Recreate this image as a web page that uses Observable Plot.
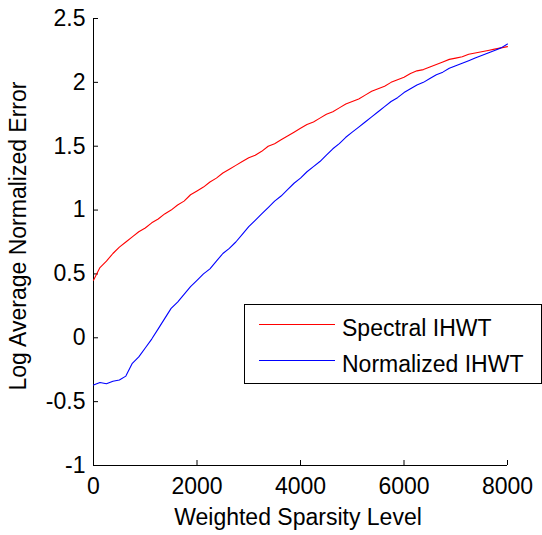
<!DOCTYPE html>
<html><head><meta charset="utf-8">
<script src="https://cdn.jsdelivr.net/npm/d3@7"></script>
<script src="https://cdn.jsdelivr.net/npm/@observablehq/plot@0.6"></script>
<style>body{margin:0;background:#fff}#chart{width:542px;height:535px}</style>
</head><body><div id="chart"></div>
<script>
const sparsity = [0,125,250,375,500,625,750,875,1000,1125,1250,1375,1500,1625,1750,1875,2000,2125,2250,2375,2500,2625,2750,2875,3000,3125,3250,3375,3500,3625,3750,3875,4000,4125,4250,4375,4500,4625,4750,4875,5000,5125,5250,5375,5500,5625,5750,5875,6000,6125,6250,6375,6500,6625,6750,6875,7000,7125,7250,7375,7500,7625,7750,7875,8000];
const spectral = [0.45,0.55,0.60,0.66,0.71,0.75,0.79,0.83,0.86,0.90,0.93,0.97,1.00,1.04,1.07,1.12,1.15,1.18,1.22,1.25,1.29,1.32,1.35,1.38,1.41,1.43,1.46,1.50,1.52,1.55,1.58,1.61,1.64,1.67,1.69,1.72,1.75,1.77,1.80,1.83,1.85,1.87,1.90,1.93,1.95,1.97,2.00,2.02,2.04,2.07,2.09,2.10,2.12,2.14,2.16,2.18,2.19,2.20,2.22,2.23,2.24,2.25,2.26,2.27,2.28];
const normalized = [-0.37,-0.35,-0.36,-0.34,-0.33,-0.30,-0.20,-0.15,-0.08,-0.01,0.07,0.15,0.23,0.28,0.34,0.40,0.45,0.50,0.54,0.60,0.66,0.70,0.75,0.81,0.87,0.92,0.97,1.02,1.07,1.11,1.16,1.21,1.25,1.30,1.34,1.38,1.43,1.48,1.52,1.57,1.61,1.65,1.69,1.73,1.77,1.81,1.85,1.88,1.92,1.95,1.98,2.00,2.03,2.06,2.08,2.11,2.13,2.15,2.17,2.19,2.21,2.23,2.25,2.27,2.30];
const seriesNames = ["Spectral IHWT", "Normalized IHWT"];
const seriesColors = ["#ff0000", "#0000ff"];
const xTicks = [0, 2000, 4000, 6000, 8000];
const xTickLabels = ["0", "2000", "4000", "6000", "8000"];
const yTicks = [-1, -0.5, 0, 0.5, 1, 1.5, 2, 2.5];
const yTickLabels = ["-1", "-0.5", "0", "0.5", "1", "1.5", "2", "2.5"];
const xLabel = "Weighted Sparsity Level";
const yLabel = "Log Average Normalized Error";

const rows = [];
sparsity.forEach((s, i) => {
  rows.push({s, v: spectral[i], series: seriesNames[0]});
});
sparsity.forEach((s, i) => {
  rows.push({s, v: normalized[i], series: seriesNames[1]});
});

const font = "'Liberation Sans', Arial, sans-serif";
const plot = Plot.plot({
  width: 542, height: 535,
  marginLeft: 93, marginRight: 35, marginTop: 18, marginBottom: 70,
  style: {fontFamily: font, fontSize: "23px", background: "#fff", color: "#000"},
  x: {domain: [0, 8000]},
  y: {domain: [-1, 2.5]},
  color: {domain: seriesNames, range: seriesColors},
  marks: [
    Plot.axisX(xTicks, {tickSize: -5, tickPadding: 17, label: null, fontSize: 23,
      tickFormat: d => xTickLabels[xTicks.indexOf(d)]}),
    Plot.axisY(yTicks, {tickSize: -5, tickPadding: 13, label: null, fontSize: 23,
      tickFormat: d => yTickLabels[yTicks.indexOf(d)]}),
    Plot.ruleX([0]),
    Plot.ruleY([-1]),
    Plot.line(rows, {x: "s", y: "v", z: "series", stroke: "series", strokeWidth: 1.1}),
    Plot.text([xLabel], {frameAnchor: "bottom", textAnchor: "middle", lineAnchor: "middle",
      dx: -2.5, dy: 52.6, fontSize: 23}),
    Plot.text([yLabel], {frameAnchor: "left", textAnchor: "middle", lineAnchor: "middle",
      rotate: -90, dx: -74.4, dy: -6, fontSize: 23})
  ]
});

const svg = d3.select(plot);
const lg = svg.append("g").attr("font-family", font).attr("font-size", 23).attr("text-anchor", "start");
lg.append("rect").attr("x", 244.5).attr("y", 304.5).attr("width", 297).attr("height", 79)
  .attr("fill", "#fff").attr("stroke", "#000");
seriesNames.forEach((n, i) => {
  const y = 324.5 + i * 36;
  lg.append("line").attr("x1", 259).attr("x2", 335).attr("y1", y).attr("y2", y)
    .attr("stroke", seriesColors[i]).attr("stroke-width", 1.1);
  lg.append("text").attr("x", 342).attr("y", y).attr("dy", 11).attr("fill", "#000")
    .attr("text-anchor", "start").text(n);
});
document.getElementById("chart").appendChild(plot);
</script>
</body></html>
